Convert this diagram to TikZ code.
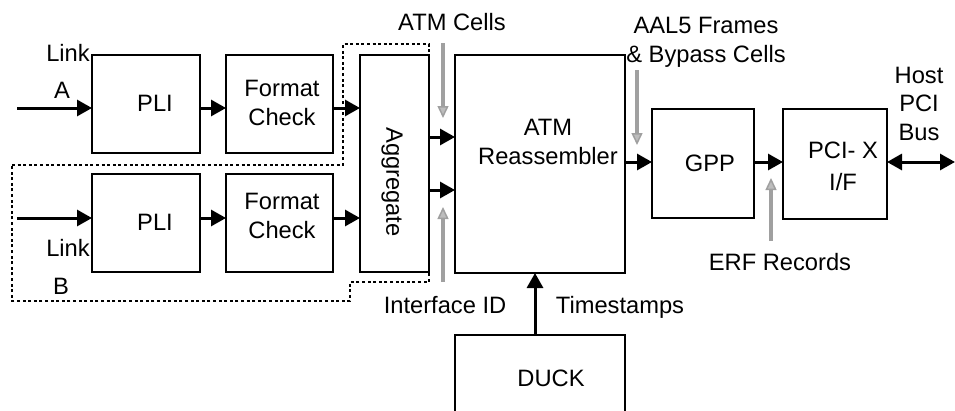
\documentclass[tikz,border=0pt]{standalone}
\usepackage{fontspec}
\setmainfont{Liberation Sans}
\usetikzlibrary{arrows.meta}
\definecolor{arrgray}{RGB}{160,160,160}
\tikzset{
  box/.style={draw, line width=1.4pt, inner sep=0pt, outer sep=0pt},
  blk/.style={line width=3pt, -{Triangle[length=15pt,width=16pt]}},
  dblk/.style={line width=3pt, {Triangle[length=15pt,width=16pt]}-{Triangle[length=15pt,width=16pt]}},
  gry/.style={line width=3.2pt, draw=arrgray, -{Triangle[length=12pt,width=11pt,line width=1.5pt,fill=arrgray!70!white]}},
  dashline/.style={line width=1.3pt, dash pattern=on 3pt off 2.6pt},
  txt/.style={inner sep=0pt, anchor=base, font=\fontsize{23.7}{28.5}\selectfont},
  mtxt/.style={inner sep=0pt, align=center, font=\fontsize{23.7}{28.5}\selectfont},
}
\begin{document}
\begin{tikzpicture}[x=1pt, y=-1pt]
\clip (0,0) rectangle (955,410);
% dashed boundary
\draw[dashline] (12,165) -- (343,165) -- (343,44) -- (429,44) -- (429,282) -- (350,282) -- (350,301) -- (12,301) -- cycle;
% boxes
\node[box, minimum width=108pt, minimum height=98pt] (pliA) at (146,104) {};
\node[box, minimum width=107pt, minimum height=98pt] (fcA) at (279.5,104) {};
\node[box, minimum width=108pt, minimum height=98pt] (pliB) at (146,223) {};
\node[box, minimum width=107pt, minimum height=98pt] (fcB) at (279.5,223) {};
\node[box, minimum width=69pt, minimum height=217pt] (agg) at (394.5,163.5) {};
\node[box, minimum width=170pt, minimum height=218pt] (atm) at (540,164) {};
\node[box, minimum width=102pt, minimum height=109pt] (gpp) at (703,163.5) {};
\node[box, minimum width=104pt, minimum height=110pt] (pci) at (835,164) {};
\node[box, minimum width=170pt, minimum height=95pt] (duck) at (540,382.5) {};
% texts in boxes
\node[txt] (pliAt) at (155,111.5) {PLI};
\node[txt] (pliBt) at (155,230.5) {PLI};
\node[mtxt] (fcAt) at (282,103) {Format\\Check};
\node[mtxt] (fcBt) at (282,216) {Format\\Check};
\node[mtxt, rotate=-90] (aggt) at (392,182) {Aggregate};
\node[mtxt] (atmt) at (548,142) {ATM\\Reassembler};
\node[txt] (gppt) at (710,171.5) {GPP};
\node[mtxt] (pcit) at (843,166.5) {PCI- X\\[4pt]I/F};
\node[txt] (duckt) at (551,386.5) {DUCK};
% outer labels
\node[txt] (linkAl) at (68,61.5) {Link};
\node[txt] (linkAa) at (62,98.5) {A};
\node[txt] (linkBl) at (68,256.5) {Link};
\node[txt] (linkBb) at (61,294.5) {B};
\node[txt] (cellst) at (452,30.5) {ATM Cells};
\node[mtxt] (aalt) at (706,42.5) {AAL5 Frames\\\& Bypass Cells};
\node[mtxt] (hostt) at (919,103.5) {Host\\PCI\\Bus};
\node[txt] (ift) at (445,313.5) {Interface ID};
\node[txt] (tst) at (620,313.5) {Timestamps};
\node[txt] (erft) at (780,270.5) {ERF Records};
% helper coordinates
\coordinate (ya) at (0,108);
\coordinate (yb) at (0,218);
\coordinate (y1) at (0,137);
\coordinate (y2) at (0,190);
\coordinate (yc) at (0,162);
\coordinate (xt) at (535,0);
\coordinate (linkA) at (17,108);
\coordinate (linkB) at (17,218);
\coordinate (host) at (955,162);
\coordinate (cellsS) at (443,43);
\coordinate (cellsE) at (443,118);
\coordinate (ifS) at (443,282);
\coordinate (ifE) at (443,207);
\coordinate (aalS) at (637,70);
\coordinate (aalE) at (637,145);
\coordinate (erfS) at (771,241);
\coordinate (erfE) at (771,178);
% black connectors
\draw[blk] (linkA) -- (linkA -| pliA.west);
\draw[blk] (pliA.east |- ya) -- (fcA.west |- ya);
\draw[blk] (fcA.east |- ya) -- (agg.west |- ya);
\draw[blk] (linkB) -- (linkB -| pliB.west);
\draw[blk] (pliB.east |- yb) -- (fcB.west |- yb);
\draw[blk] (fcB.east |- yb) -- (agg.west |- yb);
\draw[blk] (agg.east |- y1) -- (atm.west |- y1);
\draw[blk] (agg.east |- y2) -- (atm.west |- y2);
\draw[blk] (atm.east |- yc) -- (gpp.west |- yc);
\draw[blk] (gpp.east |- yc) -- (pci.west |- yc);
\draw[dblk] (pci.east |- yc) -- (host);
\draw[blk] (duck.north -| xt) -- (atm.south -| xt);
% gray connectors
\draw[gry] (cellsS) -- (cellsE);
\draw[gry] (ifS) -- (ifE);
\draw[gry] (aalS) -- (aalE);
\draw[gry] (erfS) -- (erfE);
\end{tikzpicture}
\end{document}
